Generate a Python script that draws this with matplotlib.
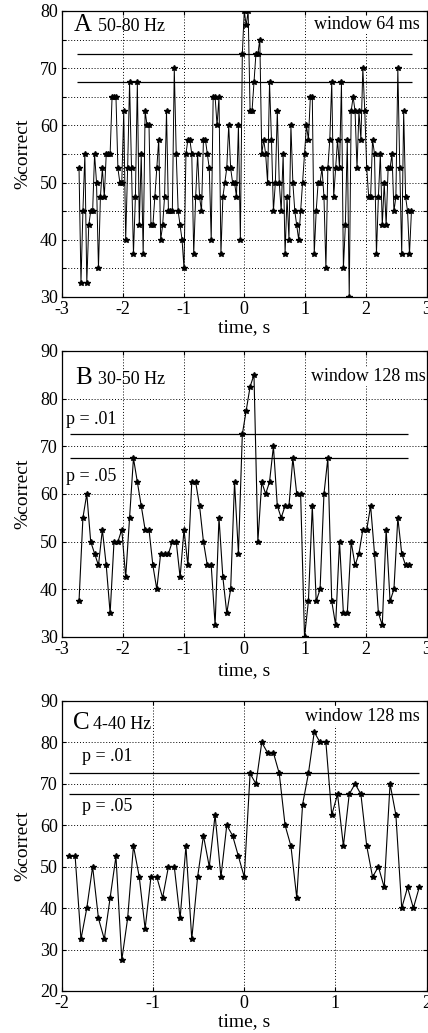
import numpy as np
import matplotlib.pyplot as plt
from matplotlib.ticker import FuncFormatter

# panel A: 50-80 Hz, window 64 ms, step 32 ms
a_start, a_step = -2.72, 0.032
a_vals = [52.5, 32.5, 45, 55, 32.5, 42.5, 45, 45, 55, 50,
          35, 47.5, 52.5, 47.5, 55, 55, 55, 65, 65, 65,
          52.5, 50, 50, 62.5, 40, 52.5, 67.5, 52.5, 37.5, 47.5,
          67.5, 42.5, 55, 37.5, 62.5, 60, 60, 42.5, 42.5, 47.5,
          52.5, 57.5, 40, 42.5, 47.5, 62.5, 45, 45, 45, 70,
          55, 45, 42.5, 40, 35, 55, 57.5, 57.5, 55, 37.5,
          47.5, 55, 47.5, 45, 57.5, 57.5, 55, 52.5, 40, 65,
          65, 60, 65, 37.5, 47.5, 50, 52.5, 60, 52.5, 50,
          50, 47.5, 60, 40, 72.5, 80, 77.5, 80, 62.5, 62.5,
          67.5, 72.5, 72.5, 75, 55, 57.5, 55, 50, 67.5, 57.5,
          45, 50, 62.5, 50, 45, 55, 37.5, 47.5, 40, 60,
          50, 45, 42.5, 40, 45, 50, 55, 60, 57.5, 65,
          65, 37.5, 45, 50, 50, 52.5, 47.5, 35, 52.5, 57.5,
          67.5, 47.5, 52.5, 57.5, 52.5, 67.5, 35, 42.5, 57.5, 30,
          62.5, 65, 62.5, 52.5, 62.5, 57.5, 70, 62.5, 52.5, 47.5,
          47.5, 57.5, 55, 37.5, 47.5, 55, 42.5, 50, 42.5, 52.5,
          52.5, 55, 45, 47.5, 70, 52.5, 37.5, 62.5, 47.5, 45,
          37.5, 45]

# panel B: 30-50 Hz, window 128 ms, step 64 ms
b_start, b_step = -2.72, 0.064
b_vals = [37.5, 55, 60, 50, 47.5, 45, 52.5, 45, 35, 50,
          50, 52.5, 42.5, 55, 67.5, 62.5, 57.5, 52.5, 52.5, 45,
          40, 47.5, 47.5, 47.5, 50, 50, 42.5, 52.5, 45, 62.5,
          62.5, 57.5, 50, 45, 45, 32.5, 55, 42.5, 35, 40,
          62.5, 47.5, 72.5, 77.5, 82.5, 85, 50, 62.5, 60, 62.5,
          70, 57.5, 55, 57.5, 57.5, 67.5, 60, 60, 30, 37.5,
          57.5, 37.5, 40, 60, 67.5, 37.5, 32.5, 50, 35, 35,
          50, 45, 47.5, 52.5, 52.5, 57.5, 47.5, 35, 32.5, 52.5,
          37.5, 40, 55, 47.5, 45, 45]

# panel C: 4-40 Hz, window 128 ms, step 64 ms
c_start, c_step = -1.92, 0.064
c_vals = [52.5, 52.5, 32.5, 40, 50, 37.5, 32.5, 42.5, 52.5, 27.5,
          37.5, 55, 47.5, 35, 47.5, 47.5, 42.5, 50, 50, 37.5,
          55, 32.5, 47.5, 57.5, 50, 62.5, 47.5, 60, 57.5, 52.5,
          47.5, 72.5, 70, 80, 77.5, 77.5, 72.5, 60, 55, 42.5,
          65, 72.5, 82.5, 80, 80, 62.5, 67.5, 55, 67.5, 70,
          67.5, 55, 47.5, 50, 45, 70, 62.5, 40, 45, 40,
          45]

p01, p05 = 72.5, 67.5

plt.rcParams['font.family'] = ['Liberation Serif', 'DejaVu Serif']
plt.rcParams['font.size'] = 13

fig = plt.figure(figsize=(4.28, 10.33), dpi=100)

panels = [
    dict(rect=[0.1449, 0.7125, 0.8516, 0.2769], start=a_start, step=a_step, vals=a_vals,
         xlim=(-3, 3), ylim=(30, 80), yticks=np.arange(30, 81, 5), xticks=np.arange(-3, 4, 1),
         letter='A', band='50-80 Hz', win='window 64 ms', line_x=(-2.75, 2.76),
         let_x=0.031, band_x=0.10, head_y=0.951, win_x=0.982, win_y=0.951,
         plab=None, xlab_y=-0.106, lw=0.7),
    dict(rect=[0.1449, 0.3834, 0.8516, 0.2769], start=b_start, step=b_step, vals=b_vals,
         xlim=(-3, 3), ylim=(30, 90), yticks=np.arange(30, 91, 10), xticks=np.arange(-3, 4, 1),
         letter='B', band='30-50 Hz', win='window 128 ms', line_x=(-2.87, 2.70),
         let_x=0.036, band_x=0.10, head_y=0.906, win_x=0.997, win_y=0.91,
         plab=(0.012, 75.7, 63.6), xlab_y=-0.119, lw=0.8),
    dict(rect=[0.1449, 0.0407, 0.8516, 0.2807], start=c_start, step=c_step, vals=c_vals,
         xlim=(-2, 2), ylim=(20, 90), yticks=np.arange(20, 91, 10), xticks=np.arange(-2, 3, 1),
         letter='C', band='4-40 Hz', win='window 128 ms', line_x=(-1.92, 1.92),
         let_x=0.031, band_x=0.086, head_y=0.924, win_x=0.982, win_y=0.946,
         plab=(0.054, 76.6, 64.5), xlab_y=-0.107, lw=0.8),
]

for p in panels:
    ax = fig.add_axes(p['rect'])
    t = p['start'] + p['step'] * np.arange(len(p['vals']))
    ax.plot(t, p['vals'], color='black', lw=p['lw'], marker='*', ms=4,
            mec='black', mfc='black', zorder=3)
    ax.hlines([p01, p05], p['line_x'][0], p['line_x'][1], color='black', lw=0.9, zorder=2)

    ax.set_xlim(*p['xlim'])
    ax.set_ylim(*p['ylim'])
    ax.set_xticks(p['xticks'])
    ax.set_yticks(p['yticks'])
    ax.yaxis.set_major_formatter(FuncFormatter(lambda v, pos: '%d' % v if v % 10 == 0 else ''))
    ax.xaxis.set_major_formatter(FuncFormatter(lambda v, pos: '%d' % v))
    ax.grid(True, color='black', linestyle=(0, (1, 2)), lw=0.7)
    ax.tick_params(direction='in', length=3, width=0.8, top=True, right=True, pad=3,
                   labelsize=13)
    for s in ax.spines.values():
        s.set_linewidth(0.9)

    ax.set_xlabel('time, s', fontsize=14, va='center')
    ax.set_ylabel('%correct', fontsize=14, va='center')
    ax.xaxis.set_label_coords(0.5, p['xlab_y'])
    ax.yaxis.set_label_coords(-0.107, 0.5)

    ax.text(p['let_x'], p['head_y'], p['letter'], transform=ax.transAxes, fontsize=18,
            ha='left', va='center', zorder=5,
            bbox=dict(facecolor='white', edgecolor='none', pad=0.3))
    ax.text(p['band_x'], p['head_y'] - 0.006, p['band'], transform=ax.transAxes, fontsize=13,
            ha='left', va='center', zorder=6)
    ax.text(p['win_x'], p['win_y'], p['win'], transform=ax.transAxes, fontsize=13,
            ha='right', va='center', zorder=5,
            bbox=dict(facecolor='white', edgecolor='none', pad=0.5))
    if p['plab']:
        px, y1, y5 = p['plab']
        ax.text(px, y1, 'p = .01', fontsize=13, ha='left', va='center',
                transform=ax.get_yaxis_transform(), zorder=5,
                bbox=dict(facecolor='white', edgecolor='none', pad=0.5))
        ax.text(px, y5, 'p = .05', fontsize=13, ha='left', va='center',
                transform=ax.get_yaxis_transform(), zorder=5,
                bbox=dict(facecolor='white', edgecolor='none', pad=0.5))

fig.savefig('out.png', dpi=100)
